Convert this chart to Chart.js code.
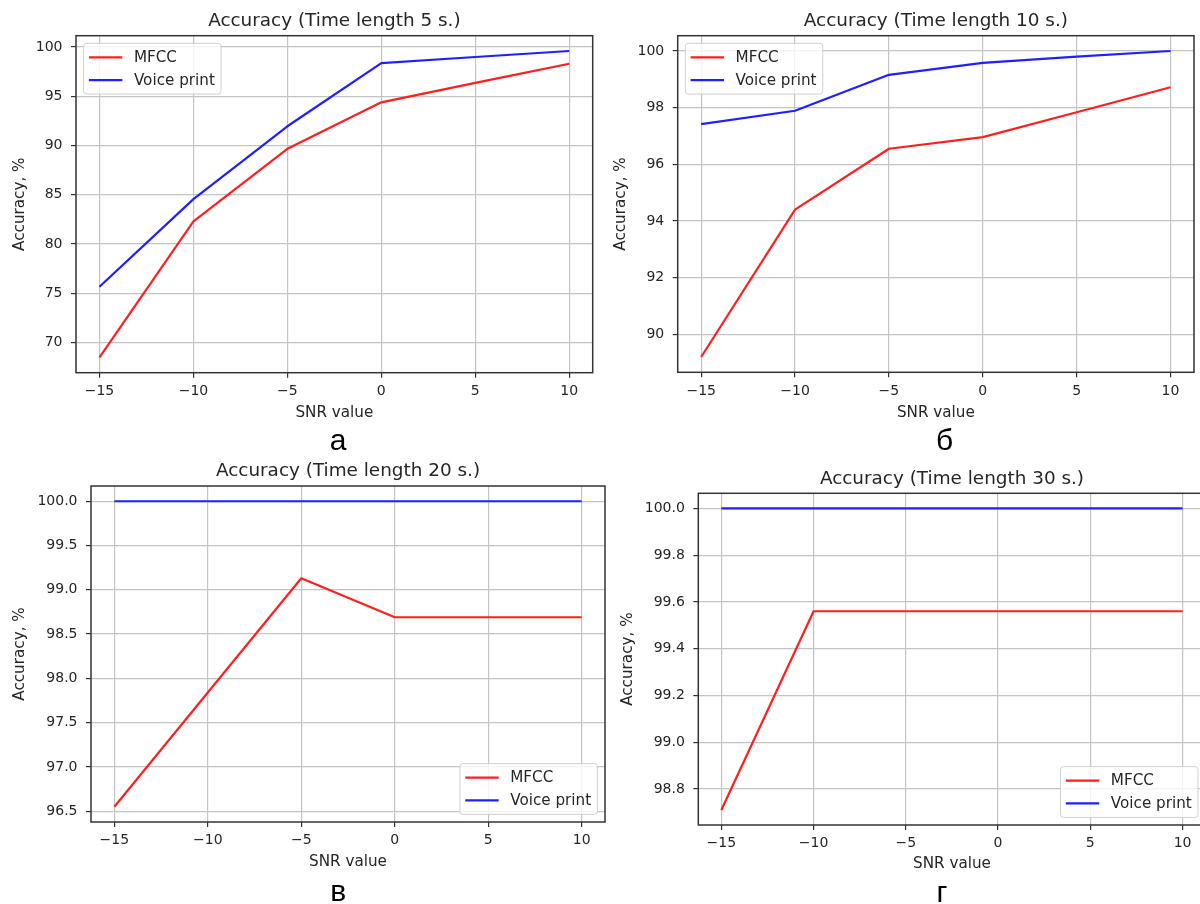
<!DOCTYPE html>
<html>
<head>
<meta charset="utf-8">
<script src="https://cdn.jsdelivr.net/npm/chart.js@4.4.1/dist/chart.umd.min.js"></script>
<style>
	html, body { margin: 0; padding: 0; background: #ffffff; }
	body { position: relative; width: 1200px; height: 904px; overflow: hidden; }
	canvas { position: absolute; }
	.panel-letter
	{
		position: absolute;
		width: 60px;
		margin-left: -30px;
		text-align: center;
		font: 30px/30px "Liberation Sans", Arial, sans-serif;
		color: #000000;
	}
</style>
</head>
<body>
<script>
// SNR points shared by every panel
const snrValues = [-15, -10, -5, 0, 5, 10];

// accuracy, % for each recording length
const mfcc5 = [68.5, 82.3, 89.67, 94.39, 96.36, 98.31];
const voice5 = [75.67, 84.56, 91.96, 98.37, 98.99, 99.6];
const mfcc10 = [89.2, 94.4, 96.55, 96.96, 97.84, 98.72];
const voice10 = [97.42, 97.89, 99.16, 99.58, 99.8, 100.0];
const mfcc20 = [96.55, 97.84, 99.13, 98.69, 98.69, 98.69];
const voice20 = [100, 100, 100, 100, 100, 100];
const mfcc30 = [98.71, 99.56, 99.56, 99.56, 99.56, 99.56];
const voice30 = [100, 100, 100, 100, 100, 100];

const yTicks5 = [70, 75, 80, 85, 90, 95, 100];
const yTicks10 = [90, 92, 94, 96, 98, 100];
const yTicks20 = [96.5, 97.0, 97.5, 98.0, 98.5, 99.0, 99.5, 100.0];
const yTicks30 = [98.8, 99.0, 99.2, 99.4, 99.6, 99.8, 100.0];

const seriesNames = ["MFCC", "Voice print"];
const panelTitles = ["Accuracy (Time length 5 s.)", "Accuracy (Time length 10 s.)", "Accuracy (Time length 20 s.)", "Accuracy (Time length 30 s.)"];
const panelLetters = ["а", "б", "в", "г"];
const xAxisName = "SNR value";
const yAxisName = "Accuracy, %";

const FONT = "\"DejaVu Sans\", sans-serif";
const TEXT = "#262626";
const TITLE_SIZE = 18.4;
const LABEL_SIZE = 15.2;
const TICK_SIZE = 14;
const LEGEND_SIZE = 15.2;
const TICK_LEN = 5;

// canvas rect, plot box (page px), title / axis-label centres, legend corner, letter anchor
const panels =
[
	{ canvas: [0, 0, 600, 450], box: [76, 35.7, 592.7, 372.7], titleY: 21.7, yLabelX: 19.7, xLabelY: 413.5, legend: "topLeft", letter: [338, 450] },
	{ canvas: [600, 0, 600, 450], box: [677.7, 35.7, 1194, 372.3], titleY: 21.7, yLabelX: 621, xLabelY: 413, legend: "topLeft", letter: [944.5, 450] },
	{ canvas: [0, 450, 612, 454], box: [91, 486, 605, 822], titleY: 471.7, yLabelX: 19.7, xLabelY: 861.7, legend: "bottomRight", letter: [338.3, 901] },
	{ canvas: [600, 450, 620, 454], box: [698.3, 493.3, 1205.6, 825], titleY: 479.3, yLabelX: 627.7, xLabelY: 864, legend: "bottomRight", letter: [942, 902] }
];

// closed frame round the plot area, like matplotlib spines
const axesFrame =
{
	id: "axesFrame",
	afterDatasetsDraw(chart)
	{
		const { ctx, chartArea: a } = chart;
		ctx.save();
		ctx.strokeStyle = "#333333";
		ctx.lineWidth = 1.5;
		ctx.strokeRect(a.left, a.top, a.right - a.left, a.bottom - a.top);
		ctx.restore();
	}
};

// framed legend inside the plot area
const boxLegend =
{
	id: "boxLegend",
	afterDraw(chart, args, opts)
	{
		const { ctx, chartArea: a } = chart;
		const fs = opts.size;
		const sets = chart.data.datasets;
		ctx.save();
		ctx.font = fs + "px " + FONT;
		const textW = Math.max(...sets.map(d => ctx.measureText(d.label).width));
		const w = fs * (0.35 + 2.2 + 0.76 + 0.41) + textW;
		const h = fs * (0.92 * 2 + 1.5 * (sets.length - 1));
		const gap = fs * 0.5;
		const x = opts.corner == "topLeft" ? a.left + gap : a.right - gap - w;
		const y = opts.corner == "topLeft" ? a.top + gap : a.bottom - gap - h;

		ctx.beginPath();
		ctx.roundRect(x, y, w, h, 3);
		ctx.fillStyle = "rgba(255,255,255,0.8)";
		ctx.fill();
		ctx.strokeStyle = "#d0d0d0";
		ctx.lineWidth = 1;
		ctx.stroke();

		sets.forEach((d, i) =>
		{
			const cy = y + fs * 0.92 + i * fs * 1.5;
			ctx.beginPath();
			ctx.moveTo(x + fs * 0.35, cy);
			ctx.lineTo(x + fs * 2.55, cy);
			ctx.strokeStyle = d.borderColor;
			ctx.lineWidth = d.borderWidth;
			ctx.stroke();
			ctx.fillStyle = TEXT;
			ctx.textBaseline = "middle";
			ctx.textAlign = "left";
			ctx.fillText(d.label, x + fs * 3.31, cy + 0.5);
		});
		ctx.restore();
	}
};

function minusSign(v, decimals)
{
	const s = Math.abs(v).toFixed(decimals);
	return v < 0 ? "\u2212" + s : s;
}

function makePanel(p, title, mfcc, voice, yTicks, decimals)
{
	const [cx, cy, cw, ch] = p.canvas;
	const [bl, bt, br, bb] = p.box;
	const labelHalf = LABEL_SIZE * 1.2 / 2;
	const titleHalf = TITLE_SIZE * 1.2 / 2;

	const padLeft = p.yLabelX - cx - labelHalf;
	const yAxisW = bl - cx - padLeft;
	const padRight = cx + cw - br;
	const xAxisH = p.xLabelY - bb + labelHalf;
	const padBottom = cy + ch - bb - xAxisH;

	const canvas = document.createElement("canvas");
	canvas.width = cw;
	canvas.height = ch;
	canvas.style.left = cx + "px";
	canvas.style.top = cy + "px";
	document.body.appendChild(canvas);

	const all = mfcc.concat(voice);
	const lo = Math.min(...all);
	const hi = Math.max(...all);
	const margin = (hi - lo) * 0.05;

	const gridStyle =
	{
		color: "#c4c4c4",
		lineWidth: 1.2,
		tickColor: "#333333",
		tickWidth: 1.2,
		tickLength: TICK_LEN
	};

	new Chart(canvas.getContext("2d"),
	{
		type: "line",
		plugins: [axesFrame, boxLegend],
		data:
		{
			datasets:
			[
				{
					label: seriesNames[0],
					data: snrValues.map((s, i) => ({ x: s, y: mfcc[i] })),
					borderColor: "#ff1f1f",
					borderWidth: 2.2,
					pointRadius: 0,
					tension: 0,
					borderJoinStyle: "round"
				},
				{
					label: seriesNames[1],
					data: snrValues.map((s, i) => ({ x: s, y: voice[i] })),
					borderColor: "#2020ff",
					borderWidth: 2.2,
					pointRadius: 0,
					tension: 0,
					borderJoinStyle: "round"
				}
			]
		},
		options:
		{
			responsive: false,
			animation: false,
			devicePixelRatio: 1,
			layout: { padding: { left: padLeft, right: padRight, top: 0, bottom: padBottom } },
			scales:
			{
				x:
				{
					type: "linear",
					min: snrValues[0] - 1.25,
					max: snrValues[snrValues.length - 1] + 1.25,
					bounds: "data",
					afterBuildTicks: scale => { scale.ticks = snrValues.map(v => ({ value: v })); },
					afterFit: scale => { scale.height = xAxisH; },
					grid: gridStyle,
					border: { display: false },
					ticks:
					{
						autoSkip: false,
						maxRotation: 0,
						padding: 18.8 - TICK_LEN - TICK_SIZE * 0.6,
						color: TEXT,
						font: { family: FONT, size: TICK_SIZE },
						callback: v => minusSign(v, 0)
					},
					title: { display: true, text: xAxisName, color: TEXT, padding: 0, font: { family: FONT, size: LABEL_SIZE, lineHeight: 1.2 } }
				},
				y:
				{
					type: "linear",
					min: lo - margin,
					max: hi + margin,
					bounds: "data",
					afterBuildTicks: scale => { scale.ticks = yTicks.map(v => ({ value: v })); },
					afterFit: scale => { scale.width = yAxisW; },
					grid: gridStyle,
					border: { display: false },
					ticks:
					{
						autoSkip: false,
						padding: 8.5,
						color: TEXT,
						font: { family: FONT, size: TICK_SIZE },
						callback: v => minusSign(v, decimals)
					},
					title: { display: true, text: yAxisName, color: TEXT, padding: 0, font: { family: FONT, size: LABEL_SIZE, lineHeight: 1.2 } }
				}
			},
			plugins:
			{
				legend: { display: false },
				tooltip: { enabled: false },
				title:
				{
					display: true,
					fullSize: false,
					text: title,
					color: TEXT,
					font: { family: FONT, size: TITLE_SIZE, weight: "normal", lineHeight: 1.2 },
					padding: { top: p.titleY - cy - titleHalf, bottom: bt - p.titleY - titleHalf }
				},
				boxLegend: { corner: p.legend, size: LEGEND_SIZE }
			}
		}
	});
}

function addLetter(p, text)
{
	const div = document.createElement("div");
	div.className = "panel-letter";
	div.textContent = text;
	div.style.left = p.letter[0] + "px";
	div.style.top = (p.letter[1] - 25.4) + "px";
	document.body.appendChild(div);
}

makePanel(panels[0], panelTitles[0], mfcc5, voice5, yTicks5, 0);
makePanel(panels[1], panelTitles[1], mfcc10, voice10, yTicks10, 0);
makePanel(panels[2], panelTitles[2], mfcc20, voice20, yTicks20, 1);
makePanel(panels[3], panelTitles[3], mfcc30, voice30, yTicks30, 1);
panels.forEach((p, i) => addLetter(p, panelLetters[i]));
</script>
</body>
</html>
